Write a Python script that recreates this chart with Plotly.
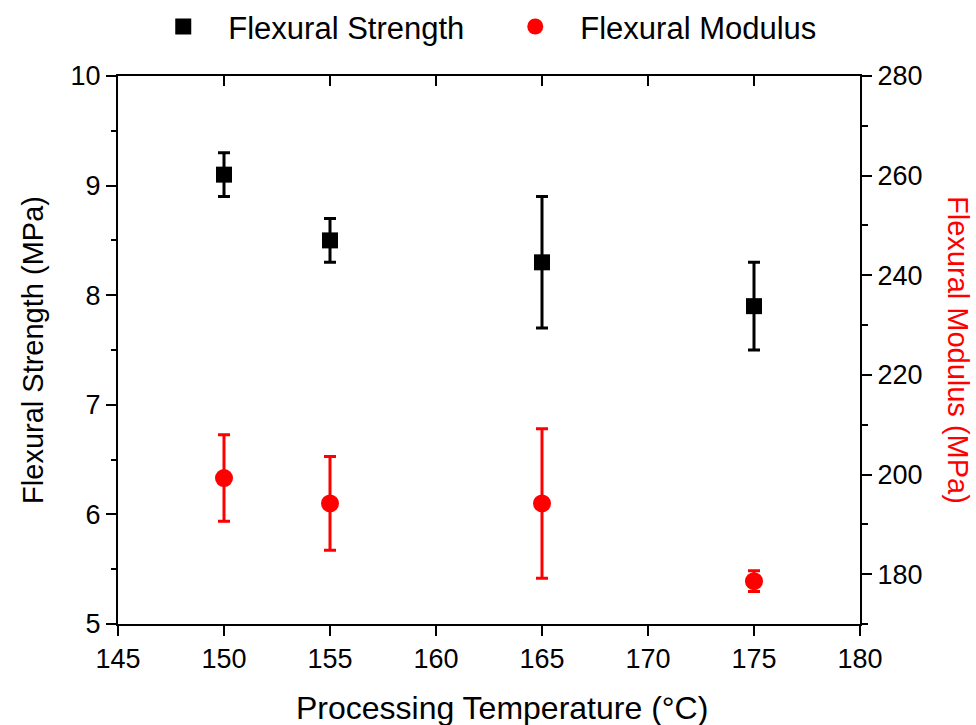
import plotly.graph_objects as go

# Processing temperature (°C)
temps = [150, 155, 165, 175]

# Flexural strength (MPa) with standard deviation
strength = [9.1, 8.5, 8.3, 7.9]
strength_err = [0.2, 0.2, 0.6, 0.4]

# Flexural modulus (MPa) with standard deviation
modulus = [199.3, 194.2, 194.2, 178.6]
modulus_err = [8.7, 9.4, 15.0, 2.1]

FONT = "Liberation Sans, Arial, sans-serif"
TICK_SIZE = 27
XTITLE_SIZE = 32
YTITLE_SIZE = 29
LEGEND_SIZE = 31

fig = go.Figure()

fig.add_trace(go.Scatter(
    x=temps, y=strength, mode="markers", name="Flexural Strength",
    marker=dict(symbol="square", size=16, color="black"),
    error_y=dict(type="data", array=strength_err, visible=True,
                 color="black", thickness=3, width=6),
    xaxis="x", yaxis="y",
))

# the modulus series sits on the top/right axis pair
fig.add_trace(go.Scatter(
    x=temps, y=modulus, mode="markers", name="Flexural Modulus",
    marker=dict(symbol="circle", size=18, color="#ff0000"),
    error_y=dict(type="data", array=modulus_err, visible=True,
                 color="#ff0000", thickness=3, width=6),
    xaxis="x2", yaxis="y2",
))

axis_common = dict(
    showline=True, linecolor="black", linewidth=2,
    showgrid=False, zeroline=False, automargin=False,
    tickcolor="black", tickwidth=2,
    tickfont=dict(family=FONT, size=TICK_SIZE, color="black"),
)

fig.update_layout(
    width=976, height=725,
    margin=dict(l=118, r=116, t=76, b=101, autoexpand=False),
    paper_bgcolor="white", plot_bgcolor="white",
    font=dict(family=FONT, color="black"),
    showlegend=True,
    legend=dict(
        orientation="h", xref="paper", x=0.0273, xanchor="left",
        yref="container", y=0.963, yanchor="middle",
        font=dict(family=FONT, size=LEGEND_SIZE, color="black"),
        itemwidth=80, entrywidth=257, entrywidthmode="pixels",
        bgcolor="rgba(0,0,0,0)",
    ),
    xaxis=dict(
        **axis_common,
        range=[145, 180], tick0=145, dtick=5,
        ticks="outside", ticklen=10,
        anchor="y",
    ),
    xaxis2=dict(
        **axis_common,
        range=[145, 180], tick0=145, dtick=5,
        ticks="inside", ticklen=10,
        showticklabels=False,
        overlaying="x", side="top", anchor="y2",
    ),
    yaxis=dict(
        **axis_common,
        range=[5, 10], tick0=5, dtick=1,
        ticks="outside", ticklen=10,
        minor=dict(ticks="outside", ticklen=5, dtick=0.5, tickwidth=2,
                   tickcolor="black", showgrid=False),
        title=dict(text="Flexural Strength (MPa)",
                   font=dict(family=FONT, size=YTITLE_SIZE, color="black"),
                   standoff=18),
        anchor="x",
    ),
    yaxis2=dict(
        **axis_common,
        range=[170, 280], tick0=180, dtick=20,
        ticks="outside", ticklen=10,
        minor=dict(ticks="outside", ticklen=6, dtick=10, tickwidth=2,
                   tickcolor="black", showgrid=False),
        overlaying="y", side="right", anchor="x2",
    ),
    annotations=[
        dict(
            text="Processing Temperature (°C)",
            xref="paper", yref="paper", x=(502 - 118) / 742, y=-84 / 548,
            xanchor="center", yanchor="middle", showarrow=False,
            font=dict(family=FONT, size=XTITLE_SIZE, color="black"),
        ),
        dict(
            text="Flexural Modulus (MPa)", textangle=90,
            xref="paper", yref="paper", x=1.132, y=0.5,
            xanchor="center", yanchor="middle", showarrow=False,
            font=dict(family=FONT, size=YTITLE_SIZE, color="#ff0000"),
        ),
    ],
)

fig.write_html("out.html")
